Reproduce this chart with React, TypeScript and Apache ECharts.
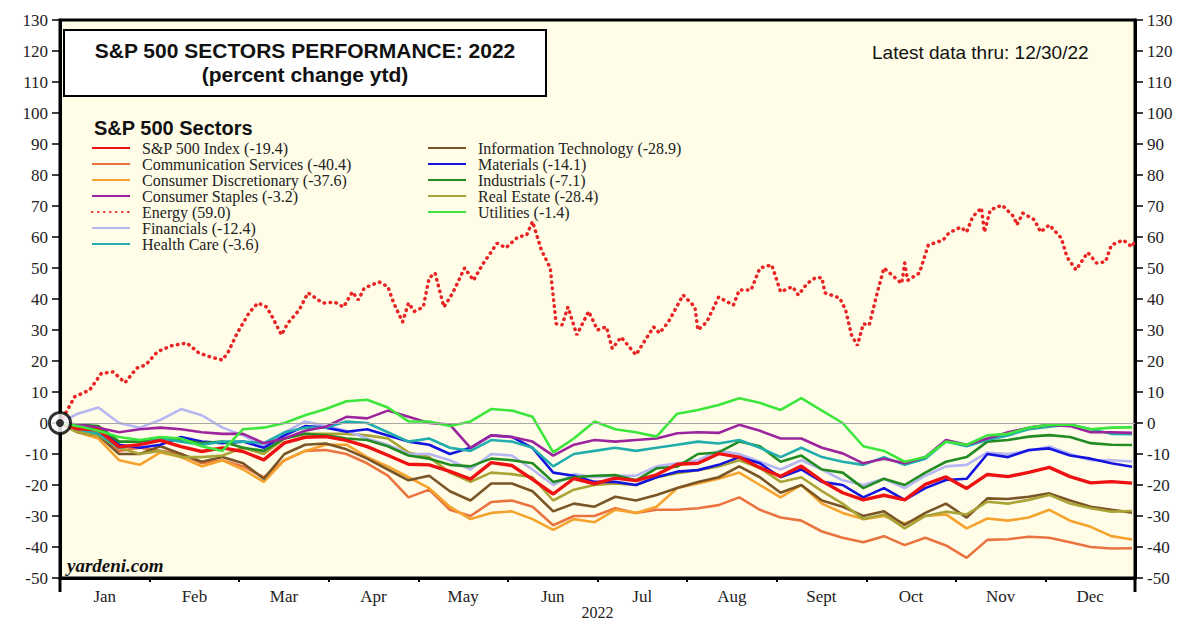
import React, { useEffect, useRef } from "react";
import * as echarts from "echarts";

const months = ["Jan", "Feb", "Mar", "Apr", "May", "Jun", "Jul", "Aug", "Sept", "Oct", "Nov", "Dec"];

// day of year (0 = Dec 31 2021 base) of each weekly (Friday) reading
const weekDays = [0, 6, 13, 20, 27, 34, 41, 48, 55, 62, 69, 76, 83, 90, 97, 104, 111, 118, 125, 132, 139, 146, 153, 160, 167, 174, 181, 188, 195, 202, 209, 216, 223, 230, 237, 244, 251, 258, 265, 272, 279, 286, 293, 300, 307, 314, 321, 328, 335, 342, 349, 356, 363];

const sp500 = [0, -1.9, -2.2, -7.7, -7.0, -5.6, -7.6, -9.2, -8.0, -9.2, -11.9, -6.4, -4.6, -4.4, -5.6, -7.6, -10.4, -13.3, -13.5, -15.6, -18.1, -12.8, -13.7, -18.2, -22.9, -17.9, -19.6, -17.8, -18.6, -16.7, -13.3, -13.0, -9.9, -11.0, -14.4, -17.2, -13.9, -18.7, -22.5, -24.8, -23.3, -24.8, -19.8, -17.4, -21.1, -16.6, -17.3, -15.9, -14.3, -17.3, -19.3, -18.9, -19.4];
const commServices = [0, -2, -3, -9, -8, -9, -10, -13, -12, -14, -17.5, -12, -9, -8.7, -10, -13, -17, -24, -21.5, -28, -30, -25.5, -25, -27, -33, -30, -30, -27.5, -29, -28, -28, -27.5, -26.5, -24, -28, -30.5, -31.5, -35, -37, -38.5, -36.5, -39.4, -37, -39.5, -43.5, -37.7, -37.5, -36.7, -37, -38.5, -40, -40.5, -40.4];
const consDisc = [0, -3, -5, -12, -13.5, -9.5, -11, -14, -12, -15, -19, -12, -9, -7, -7, -11, -14, -17.5, -21, -27, -31, -29, -28.5, -31, -34.5, -31, -32, -28, -29, -27, -21, -19.5, -18, -16, -20, -24, -20, -26, -29, -31, -30, -32.4, -30, -29.5, -34, -30.8, -31.5, -30.5, -28, -31.5, -33.5, -36.5, -37.6];
const consStaples = [0, -0.5, -1.5, -3, -2, -1.5, -2, -3, -3.5, -3.5, -6.5, -5, -2.5, -1.2, 2, 1.5, 4, 2, 0, -0.5, -8, -4, -4.5, -6, -10.5, -7, -5.5, -6, -5.5, -5, -3.3, -3, -3.2, -0.6, -2.5, -5, -5, -8, -9.8, -13, -11.5, -13, -11, -5.5, -7, -5, -3, -1.5, -0.6, -1, -3, -3, -3.2];
const financials = [0, 3, 5, 0, -1.5, 1, 4.5, 2.5, -1.5, -4, -7.5, -3, 0.5, -1, -2.5, -5, -7, -10, -10, -12, -15, -10, -10.5, -15, -20, -16.5, -17.5, -17, -17, -14, -13, -12, -9, -10, -12.5, -15, -12, -15, -18.5, -20, -18, -21, -17, -14, -13.5, -9.5, -10, -9, -7.6, -10, -12, -12, -12.4];
const healthCare = [0, -2, -3.5, -8, -7, -5, -6, -7, -6, -6, -6.5, -3, -1.5, -1.5, 0.5, 0, -3, -6, -5, -8, -9, -5.5, -6, -8, -14, -10, -9, -8, -9, -8, -7, -6, -6.6, -5.5, -8, -11, -8, -11, -12.5, -13.5, -11, -13.5, -11.5, -6, -7.5, -5.5, -4, -2, -1.2, -0.5, -2, -3.5, -3.6];
const infoTech = [0, -3, -4, -10, -10, -7.5, -10, -12.5, -11, -13, -18, -10, -7, -6.6, -8.5, -11.5, -15, -18.5, -17, -22, -25, -19.5, -19.5, -22, -28.5, -26, -27, -23.8, -25, -23.2, -21, -19, -17.5, -14, -17.5, -22.5, -20, -25, -27, -30, -28.5, -32.9, -29, -26, -30.5, -24.3, -24.5, -23.8, -22.7, -25, -27, -28, -28.9];
const materials = [0, -1, -1.5, -7, -8, -7, -4.5, -6, -6.5, -6, -8, -4, -1, -1.5, -2.8, -2, -4, -6, -7, -10, -8, -4, -4.5, -8, -16, -17, -19, -19, -20, -17.5, -15.7, -15.2, -13.5, -11, -13, -17.5, -15, -19, -20, -24, -21, -24.8, -21, -18.4, -18, -10, -11, -8.7, -8.2, -10.5, -11.5, -13, -14.1];
const industrials = [0, -0.5, -1, -6, -6, -5, -5.5, -6.5, -6, -8, -9, -5, -3.5, -4, -5, -5.5, -7.5, -10.5, -11.5, -13.5, -14, -11.5, -12, -13, -19, -17.5, -17, -16.8, -18.5, -14.6, -14.1, -10, -9.5, -6, -7.5, -12.5, -10.5, -15, -16, -21, -18, -20, -16, -12.5, -11, -6, -5.5, -4.4, -3.9, -4.5, -6.5, -7, -7.1];
const realEstate = [0, -3, -4, -8, -10, -9, -11, -11, -10.5, -8, -10, -5, -3.5, -3.5, -3.5, -4, -5, -9.5, -11, -16, -19, -16, -16.5, -17.5, -25, -21.5, -20, -19.5, -20, -17.5, -16.2, -15.2, -14, -12, -14.5, -19, -17.5, -22, -26, -31, -29.5, -34, -30, -28.6, -29.5, -25.4, -26, -24.8, -23.2, -26, -27.5, -28.6, -28.4];
const utilities = [0, -1, -2.5, -4.5, -5.5, -4.5, -5, -7.5, -9, -2, -1.5, 0, 2.5, 4.5, 7, 7.5, 5, 0.5, 0.5, -1, 0.5, 4.5, 4, 2, -9.5, -5, 0.5, -2, -3, -4.4, 3, 4.2, 5.8, 8, 6.5, 4.2, 8, 4, 0, -7.5, -9, -12.5, -11, -6, -7, -4, -3.5, -1.5, -0.6, -0.5, -2, -1.5, -1.4];

// Energy is read at a finer resolution (day of year, percent)
const energyDays = [0, 5, 10, 14, 18, 22, 26, 29, 33, 38, 43, 47, 51, 55, 57, 60, 64, 67, 70, 72, 75, 77, 81, 84, 89, 93, 96, 99, 101, 103, 108, 111, 113, 116, 118, 120, 123, 125, 127, 130, 133, 137, 140, 143, 148, 151, 155, 158, 160, 163, 166, 168, 170, 172, 175, 179, 182, 185, 187, 190, 195, 201, 203, 206, 211, 215, 216, 219, 223, 228, 230, 234, 237, 241, 244, 248, 250, 253, 256, 258, 259, 264, 266, 268, 270, 272, 274, 277, 279, 285, 286, 287, 291, 294, 299, 301, 305, 307, 309, 312, 313, 315, 319, 323, 324, 326, 330, 332, 335, 339, 341, 344, 348, 351, 354, 356, 360, 363, 364];
const energyValues = [0, 8.5, 10.6, 16, 16.5, 13, 17.7, 18.7, 23, 25, 25.8, 22.6, 21.3, 20.3, 23, 29, 35.5, 38.7, 37.4, 34, 28.4, 32, 36.5, 42, 38.7, 39, 37.4, 42.3, 39.7, 43.5, 45.5, 44, 38.7, 32.6, 38.7, 36, 37.4, 46.8, 48.4, 37.4, 42, 50, 46, 51, 58, 56.5, 60, 60.6, 65, 55.8, 50, 32, 31.6, 37.4, 28.4, 36, 30, 31, 24, 27.7, 22, 31, 29, 32.6, 41.3, 37.4, 30, 32.6, 40.6, 38, 42.9, 42.9, 50, 51, 42.3, 44, 41.3, 45, 47, 46.8, 42, 40.3, 36.5, 28.4, 25, 32, 31.6, 43, 50, 45, 51.6, 46, 48.4, 57.4, 59, 61.3, 63.2, 61.6, 66.5, 69.4, 61.6, 68.7, 70.3, 66.5, 63.9, 67.7, 65.5, 61.6, 63.9, 59.7, 53.5, 49.4, 55, 51.6, 52, 57.4, 59, 56.8, 59];

const legendLeft = [
  "S&P 500 Index (-19.4)",
  "Communication Services (-40.4)",
  "Consumer Discretionary (-37.6)",
  "Consumer Staples (-3.2)",
  "Energy (59.0)",
  "Financials (-12.4)",
  "Health Care (-3.6)",
];
const legendRight = [
  "Information Technology (-28.9)",
  "Materials (-14.1)",
  "Industrials (-7.1)",
  "Real Estate (-28.4)",
  "Utilities (-1.4)",
];

const SERIF = "'Liberation Serif', 'Times New Roman', serif";
const SANS = "'Liberation Sans', Arial, sans-serif";

const GRID = { left: 60, right: 45, top: 20, bottom: 46 };
const W = 1180;
const H = 624;

export default function App() {
  const ref = useRef<HTMLDivElement>(null);

  useEffect(() => {
    document.body.style.margin = "0";
    if (!ref.current) return;
    const chart = echarts.init(ref.current, undefined, { renderer: "svg" });

    const weekly = (vals: number[]) => weekDays.map((d, i) => [d, vals[i]]);
    const line = (name: string, data: number[][], color: string, width = 2.6, extra: any = {}) => ({
      name,
      type: "line",
      xAxisIndex: 1,
      yAxisIndex: 0,
      data,
      symbol: "none",
      showSymbol: false,
      color,
      lineStyle: { color, width, ...(extra.lineStyle || {}) },
      emphasis: { disabled: true },
      ...(extra.rest || {}),
    });

    const energyData = energyDays.map((d, i) => [d, energyValues[i]]);

    const axisY = (pos: "left" | "right") => ({
      type: "value",
      position: pos,
      min: -50,
      max: 130,
      interval: 10,
      axisLine: { show: true, onZero: false, lineStyle: { color: "#000", width: 3 } },
      axisTick: { show: true, inside: false, length: 8, lineStyle: { color: "#000", width: 1.5 } },
      axisLabel: { fontFamily: SERIF, fontSize: 17, color: "#222", margin: 12 },
      splitLine: { show: false },
    });

    const legendCommon = {
      orient: "vertical",
      top: 135,
      itemWidth: 38,
      itemHeight: 12,
      itemGap: 0,
      selectedMode: false,
      itemStyle: { opacity: 0, borderWidth: 0 },
      textStyle: { fontFamily: SERIF, fontSize: 16, color: "#222", padding: [0, 0, 0, 7] },
    };

    chart.setOption({
      animation: false,
      backgroundColor: "#fff",
      grid: {
        ...GRID,
        outerBoundsMode: "none",
        containLabel: false,
        show: true,
        backgroundColor: "#FFFDE8",
        borderColor: "#000",
        borderWidth: 3,
      },
      xAxis: [
        {
          type: "category",
          data: months,
          position: "bottom",
          boundaryGap: true,
          axisLine: { show: true, onZero: false, lineStyle: { color: "#000", width: 3 } },
          axisTick: { show: true, inside: false, length: 4, lineStyle: { color: "#000", width: 2 } },
          axisLabel: { fontFamily: SERIF, fontSize: 17, color: "#222", margin: 10 },
          splitLine: { show: false },
          name: "2022",
          nameLocation: "middle",
          nameGap: 26,
          nameMoveOverlap: false,
          nameTextStyle: { fontFamily: SERIF, fontSize: 16, color: "#222" },
        },
        { type: "value", min: 0, max: 364, show: false, axisLine: { onZero: false } },
      ],
      yAxis: [axisY("left"), axisY("right")],
      legend: [
        { ...legendCommon, left: 86, data: legendLeft },
        { ...legendCommon, left: 422, data: legendRight },
      ],
      series: [
        line(legendLeft[4], energyData, "#E82424", 3.5, {
          lineStyle: { type: [0.5, 5.5], cap: "round" },
          rest: {
            markLine: {
              silent: true,
              symbol: ["none", "none"],
              label: { show: false },
              lineStyle: { color: "#A8A8A8", width: 1.2, type: "solid", opacity: 1 },
              data: [{ yAxis: 0 }],
            },
          },
        }),
        line(legendLeft[1], weekly(commServices), "#EA7440"),
        line(legendLeft[2], weekly(consDisc), "#F6A32E"),
        line(legendRight[0], weekly(infoTech), "#7A5526"),
        line(legendRight[3], weekly(realEstate), "#A9A435"),
        line(legendLeft[5], weekly(financials), "#B6B6F2"),
        line(legendRight[1], weekly(materials), "#1414E0"),
        line(legendRight[2], weekly(industrials), "#228B22"),
        line(legendLeft[6], weekly(healthCare), "#22ADAD"),
        line(legendLeft[3], weekly(consStaples), "#9C249C"),
        line(legendLeft[0], weekly(sp500), "#EE1111", 3.4),
        line(legendRight[4], weekly(utilities), "#3CE63C"),
        {
          type: "scatter",
          xAxisIndex: 1,
          yAxisIndex: 0,
          data: [[0, 0]],
          symbol: "circle",
          symbolSize: 21,
          clip: false,
          silent: true,
          z: 10,
          itemStyle: { color: "#fff", borderColor: "#000", borderWidth: 3 },
        },
        {
          type: "scatter",
          xAxisIndex: 1,
          yAxisIndex: 0,
          data: [[0, 0]],
          symbol: "circle",
          symbolSize: 8,
          clip: false,
          silent: true,
          z: 11,
          itemStyle: { color: "#000" },
        },
      ],
      graphic: [
        {
          type: "rect",
          shape: { x: 64, y: 30, width: 482, height: 66 },
          style: { fill: "#fff", stroke: "#000", lineWidth: 2 },
          z: 20,
        },
        {
          type: "text",
          x: 305,
          y: 50,
          style: {
            text: "S&P 500 SECTORS PERFORMANCE: 2022",
            fontFamily: SANS,
            fontWeight: "bold",
            fontSize: 21,
            fill: "#111",
            align: "center",
            verticalAlign: "middle",
          },
          z: 21,
        },
        {
          type: "text",
          x: 305,
          y: 74,
          style: {
            text: "(percent change ytd)",
            fontFamily: SANS,
            fontWeight: "bold",
            fontSize: 21,
            fill: "#111",
            align: "center",
            verticalAlign: "middle",
          },
          z: 21,
        },
        {
          type: "text",
          x: 872,
          y: 52,
          style: {
            text: "Latest data thru: 12/30/22",
            fontFamily: SANS,
            fontSize: 19,
            fill: "#111",
            align: "left",
            verticalAlign: "middle",
          },
          z: 21,
        },
        {
          type: "text",
          x: 94,
          y: 128,
          style: {
            text: "S&P 500 Sectors",
            fontFamily: SANS,
            fontWeight: "bold",
            fontSize: 20,
            fill: "#111",
            align: "left",
            verticalAlign: "middle",
          },
          z: 21,
        },
        {
          type: "text",
          x: 67,
          y: 565,
          style: {
            text: "yardeni.com",
            fontFamily: SERIF,
            fontWeight: "bold",
            fontStyle: "italic",
            fontSize: 19,
            fill: "#111",
            align: "left",
            verticalAlign: "middle",
          },
          z: 21,
        },
        {
          type: "line",
          shape: { x1: GRID.left, y1: H - GRID.bottom, x2: GRID.left, y2: H - GRID.bottom + 14 },
          style: { stroke: "#000", lineWidth: 3 },
          z: 21,
        },
        {
          type: "line",
          shape: { x1: W - GRID.right, y1: H - GRID.bottom, x2: W - GRID.right, y2: H - GRID.bottom + 14 },
          style: { stroke: "#000", lineWidth: 3 },
          z: 21,
        },
      ],
    });

    return () => chart.dispose();
  }, []);

  return (
    <div
      ref={ref}
      style={{ position: "fixed", left: 0, top: 0, width: W, height: H, background: "#fff" }}
    />
  );
}
